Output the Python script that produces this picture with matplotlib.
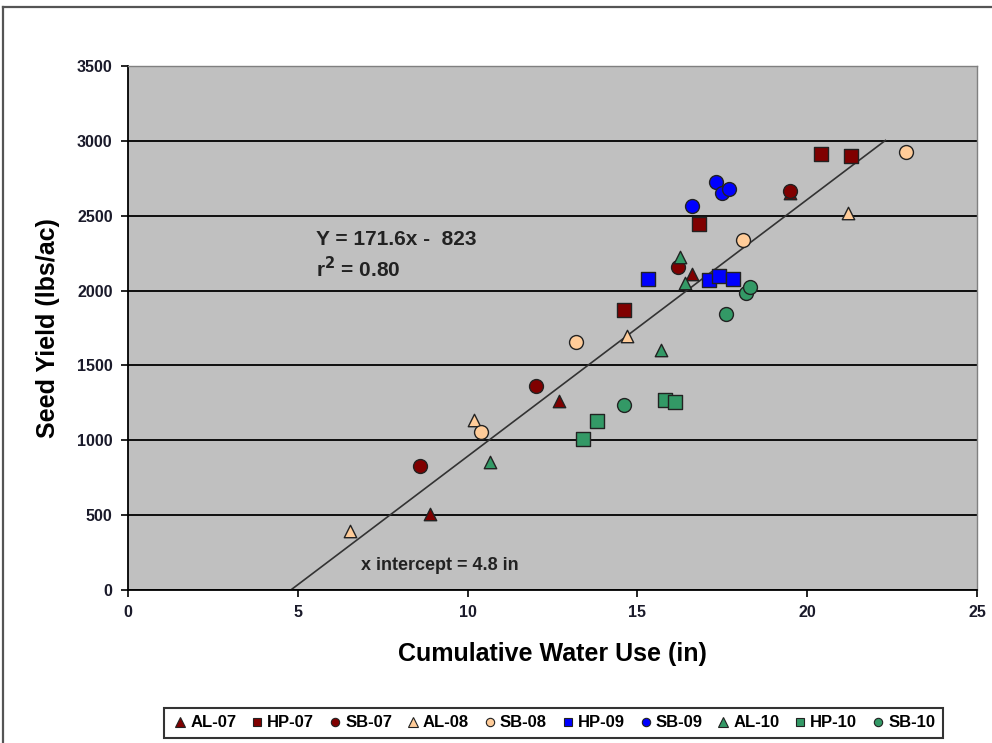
import matplotlib.pyplot as plt
from matplotlib.lines import Line2D
import numpy as np

plt.rcParams['font.family'] = ['Liberation Sans', 'DejaVu Sans']

# ── data (cumulative water use in, seed yield lbs/ac) ─────────────────────────
al07_x = [8.9, 12.7, 16.6, 19.5]
al07_y = [510, 1262, 2110, 2650]
hp07_x = [14.6, 16.8, 20.4, 21.3]
hp07_y = [1870, 2445, 2912, 2898]
sb07_x = [8.6, 12.0, 16.2, 19.5]
sb07_y = [828, 1362, 2157, 2665]
al08_x = [6.55, 10.2, 14.7, 21.2]
al08_y = [394, 1135, 1696, 2517]
sb08_x = [10.4, 13.2, 18.1, 22.9]
sb08_y = [1055, 1656, 2337, 2924]
hp09_x = [15.3, 17.1, 17.4, 17.8]
hp09_y = [2077, 2070, 2097, 2077]
sb09_x = [16.6, 17.3, 17.5, 17.7]
sb09_y = [2563, 2724, 2650, 2677]
al10_x = [10.65, 15.7, 16.25, 16.4]
al10_y = [855, 1602, 2224, 2050]
hp10_x = [13.4, 13.8, 15.8, 16.1]
hp10_y = [1008, 1128, 1268, 1255]
sb10_x = [14.6, 17.6, 18.2, 18.3]
sb10_y = [1235, 1843, 1983, 2023]

slope, intercept = 171.6, -823
line_x = [4.8, 22.3]

DRED = '#800000'
PEACH = '#FFCC99'
BLUE = '#0000FF'
GREEN = '#339966'

series = [
    ('AL-07', al07_x, al07_y, '^', DRED),
    ('HP-07', hp07_x, hp07_y, 's', DRED),
    ('SB-07', sb07_x, sb07_y, 'o', DRED),
    ('AL-08', al08_x, al08_y, '^', PEACH),
    ('SB-08', sb08_x, sb08_y, 'o', PEACH),
    ('HP-09', hp09_x, hp09_y, 's', BLUE),
    ('SB-09', sb09_x, sb09_y, 'o', BLUE),
    ('AL-10', al10_x, al10_y, '^', GREEN),
    ('HP-10', hp10_x, hp10_y, 's', GREEN),
    ('SB-10', sb10_x, sb10_y, 'o', GREEN),
]
sizes = {'^': 80, 's': 105, 'o': 100}

fig = plt.figure(figsize=(9.92, 7.43), dpi=100)
ax = fig.add_axes([0.129, 0.206, 0.856, 0.705])
ax.set_facecolor('#C0C0C0')

# outer frame
fig.add_artist(Line2D([0.003, 0.003], [0, 0.9906], color='#555555', lw=1.6))
fig.add_artist(Line2D([0.003, 1], [0.9906, 0.9906], color='#555555', lw=1.6))

ax.set_xlim(0, 25)
ax.set_ylim(0, 3500)
ax.set_xticks(np.arange(0, 26, 5))
ax.set_yticks(np.arange(0, 3501, 500))
ax.yaxis.grid(True, color='black', lw=1.3)
ax.set_axisbelow(True)

for sp in ['top', 'right']:
    ax.spines[sp].set_color('#808080')
    ax.spines[sp].set_linewidth(1.0)
for sp in ['left', 'bottom']:
    ax.spines[sp].set_color('black')
    ax.spines[sp].set_linewidth(1.3)

ax.tick_params(axis='both', direction='out', length=5, width=1.2,
               labelsize=11.5, colors='black', labelcolor='#1a1a2a', pad=6)
for lab in ax.get_xticklabels() + ax.get_yticklabels():
    lab.set_fontweight('bold')

# regression line
lx = np.array(line_x)
ax.plot(lx, slope * lx + intercept, color='#333333', lw=1.2, zorder=2)

for name, xs, ys, m, c in series:
    ax.scatter(xs, ys, marker=m, s=sizes[m], facecolor=c, edgecolor='#222222',
               linewidth=1.0, zorder=3, label=name)

ax.text(5.55, 2340, 'Y = 171.6x -  823', fontsize=15, fontweight='bold',
        color='#222222', va='center')
ax.text(5.55, 2150, 'r$^{\\mathbf{2}}$ = 0.80', fontsize=15, fontweight='bold',
        color='#222222', va='center')
ax.text(6.85, 160, 'x intercept = 4.8 in', fontsize=13, fontweight='bold',
        color='#222222', va='center')

ax.set_xlabel('Cumulative Water Use (in)', fontsize=18, fontweight='bold',
              labelpad=16)
ax.set_ylabel('Seed Yield (lbs/ac)', fontsize=18, fontweight='bold',
              labelpad=12)

handles = [Line2D([], [], marker=m, ls='none', markersize=6 if m != '^' else 6.5,
                  markerfacecolor=c, markeredgecolor='#222222', markeredgewidth=0.8)
           for _, _, _, m, c in series]
labels = [s[0] for s in series]
leg = fig.legend(handles, labels, loc='center', bbox_to_anchor=(0.558, 0.027),
                 ncol=10, frameon=True, fancybox=False,
                 handletextpad=0.1, columnspacing=0.75, handlelength=1.0,
                 borderpad=0.45, prop={'weight': 'bold', 'size': 12})
leg.get_frame().set_edgecolor('black')
leg.get_frame().set_linewidth(1.5)

plt.savefig('out.png', dpi=100, facecolor='white')
